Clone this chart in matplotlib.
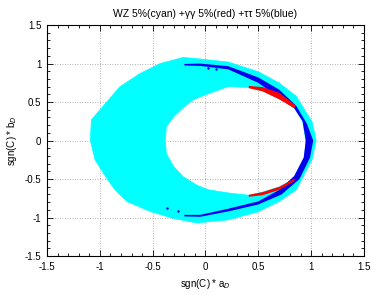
import numpy as np
import matplotlib
matplotlib.use("Agg")
import matplotlib.pyplot as plt
from matplotlib.path import Path
from matplotlib.patches import PathPatch
from matplotlib.ticker import MultipleLocator, FuncFormatter

plt.rcParams['font.family'] = ['Liberation Sans', 'DejaVu Sans']

# WZ region (cyan): outer edge, counter-clockwise
wz_outer_x = [1.048, 1.01, 0.86, 0.70, 0.50, 0.216, -0.05, -0.21, -0.43, -0.62, -0.81, -0.935,
              -1.08, -1.09, -1.045, -0.935, -0.856, -0.745, -0.525, -0.31, -0.08, 0.216, 0.50,
              0.70, 0.86, 1.01]
wz_outer_y = [0.00, 0.24, 0.576, 0.746, 0.894, 1.02, 1.06, 1.08, 1.00, 0.87, 0.70, 0.50,
              0.27, 0.00, -0.25, -0.49, -0.64, -0.79, -0.92, -1.01, -1.07, -1.03, -0.925,
              -0.79, -0.64, -0.24]
# WZ hole edge, clockwise
wz_inner_x = [0.95, 0.94, 0.85, 0.70, 0.54, 0.41, 0.216, 0.03, -0.08, -0.21, -0.30, -0.37, -0.38,
              -0.37, -0.30, -0.21, -0.115, 0.01, 0.216, 0.41, 0.54, 0.70, 0.84, 0.92]
wz_inner_y = [0.00, -0.22, -0.49, -0.60, -0.67, -0.71, -0.68, -0.64, -0.58, -0.47, -0.34, -0.17, 0.00,
              0.18, 0.31, 0.43, 0.53, 0.60, 0.70, 0.69, 0.645, 0.54, 0.43, 0.25]

# tautau band (blue)
tt_outer_x = [-0.20, -0.05, 0.216, 0.50, 0.70, 0.86, 0.96, 1.02, 0.99, 0.89, 0.72, 0.50, 0.216, -0.05, -0.20]
tt_outer_y = [0.995, 1.00, 0.966, 0.82, 0.66, 0.45, 0.22, 0.00, -0.22, -0.50, -0.70, -0.83, -0.92, -0.99, -0.985]
tt_inner_x = [-0.20, -0.05, 0.216, 0.50, 0.70, 0.84, 0.93, 0.95, 0.92, 0.84, 0.70, 0.50, 0.216, -0.05, -0.20]
tt_inner_y = [-0.965, -0.965, -0.885, -0.79, -0.64, -0.46, -0.22, 0.00, 0.25, 0.42, 0.555, 0.75, 0.925, 0.97, 0.975]
tt_dots_x = [-0.36, -0.26, 0.02, 0.10]
tt_dots_y = [-0.87, -0.91, 0.94, 0.93]

# gamma gamma arcs (red)
gg_top_x = [0.41, 0.54, 0.70, 0.86, 0.84, 0.70, 0.54, 0.41]
gg_top_y = [0.71, 0.695, 0.62, 0.45, 0.42, 0.535, 0.64, 0.68]
gg_bot_x = [0.41, 0.54, 0.70, 0.84, 0.85, 0.70, 0.54, 0.41]
gg_bot_y = [-0.73, -0.71, -0.64, -0.53, -0.49, -0.60, -0.67, -0.705]

fig = plt.figure(figsize=(3.74, 2.95), dpi=100)
ax = fig.add_axes([0.1257, 0.132, 0.8473, 0.783])

verts = list(zip(wz_outer_x, wz_outer_y)) + [(wz_outer_x[0], wz_outer_y[0])]
codes = [Path.MOVETO] + [Path.LINETO] * (len(wz_outer_x) - 1) + [Path.CLOSEPOLY]
verts += list(zip(wz_inner_x, wz_inner_y)) + [(wz_inner_x[0], wz_inner_y[0])]
codes += [Path.MOVETO] + [Path.LINETO] * (len(wz_inner_x) - 1) + [Path.CLOSEPOLY]
ax.add_patch(PathPatch(Path(verts, codes), facecolor='#00ffff', edgecolor='#00ffff', lw=0.5, zorder=2))

ax.fill(tt_outer_x + tt_inner_x, tt_outer_y + tt_inner_y, color='#0000ee', lw=0, zorder=3)
ax.scatter(tt_dots_x, tt_dots_y, s=3, color='#0000ee', lw=0, zorder=3)
ax.fill(gg_top_x, gg_top_y, color='#ff0000', lw=0, zorder=4)
ax.fill(gg_bot_x, gg_bot_y, color='#ff0000', lw=0, zorder=4)

ax.set_xlim(-1.5, 1.5)
ax.set_ylim(-1.5, 1.5)
for axis in (ax.xaxis, ax.yaxis):
    axis.set_major_locator(MultipleLocator(0.5))
    axis.set_minor_locator(MultipleLocator(0.1))
    axis.set_major_formatter(FuncFormatter(lambda v, p: '%g' % v))
ax.tick_params(which='both', direction='in', top=True, right=True, labelsize=7, width=0.6)
ax.tick_params(which='major', length=4, pad=4)
ax.tick_params(which='minor', length=2)
ax.grid(True, which='major', color='#999999', linestyle=(0, (1, 2)), linewidth=0.6, zorder=1)
ax.set_axisbelow(True)
for s in ax.spines.values():
    s.set_linewidth(0.8)

ax.set_title('WZ 5%(cyan) +γγ 5%(red) +ττ 5%(blue)', fontsize=7.5, pad=6)
ax.set_xlabel('sgn(C) * a$_D$', fontsize=7, labelpad=4)
ax.set_ylabel('sgn(C) * b$_D$', fontsize=7, labelpad=4)

fig.savefig('out.png', dpi=100)
